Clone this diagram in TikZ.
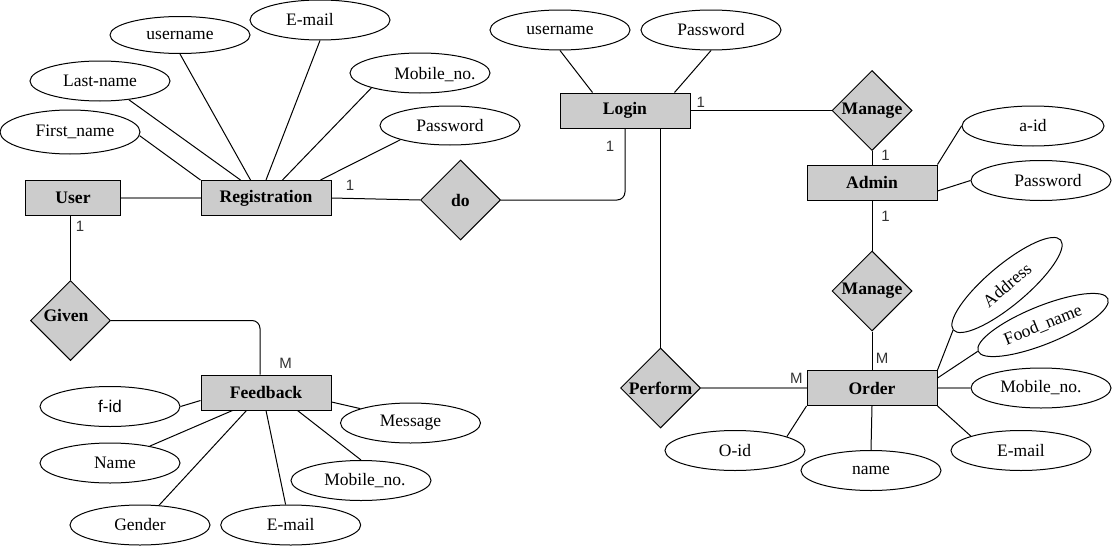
\documentclass[tikz,border=0pt]{standalone}
\usepackage{fontspec}
\setmainfont{Liberation Serif}
\newfontfamily\arialf{Liberation Sans}
\usetikzlibrary{shapes.geometric,calc}
\definecolor{boxfill}{HTML}{CCCCCC}
\definecolor{cardc}{HTML}{333333}
\definecolor{grayline}{HTML}{808080}
\begin{document}
\begin{tikzpicture}[x=1pt,y=-1pt,line width=1pt,
 ent/.style={draw,fill=boxfill,rectangle,minimum width=130pt,minimum height=35pt,inner sep=0pt,font=\fontsize{17.6}{20}\selectfont\bfseries},
 rel/.style={draw,fill=boxfill,diamond,minimum width=80pt,minimum height=80pt,inner sep=0pt},
 reltxt/.style={font=\fontsize{17.6}{20}\selectfont\bfseries,inner sep=0pt},
 attr/.style={draw,ellipse,minimum width=140pt,minimum height=40pt,inner sep=0pt,font=\fontsize{17.5}{20}\selectfont},
 atxt/.style={font=\fontsize{17.5}{20}\selectfont,inner sep=0pt},
 card/.style={font=\arialf\fontsize{15}{17}\selectfont,text=cardc,inner sep=0pt},
 link/.style={draw,line width=1pt},
 glink/.style={draw=grayline,line width=2pt}]
\useasboundingbox (0,0) rectangle (1114,546);

% entities
\node[ent,minimum width=95.5pt] (user) at (73,198) {User};
\node[ent] (reg) at (266,198) {Registration};
\node[ent] (login) at (625,110.5) {Login};
\node[ent] (admin) at (872,182.5) {Admin};
\node[ent] (order) at (872,388) {Order};
\node[ent] (fb) at (266,392.5) {Feedback};

% relationships
\node[rel,label={[reltxt]center:do}] (do) at (460.5,200) {};
\node[rel,label={[reltxt]center:Manage}] (m1) at (872,110.5) {};
\node[rel,label={[reltxt]center:Manage}] (m2) at (872,291) {};
\node[rel,label={[reltxt]center:Perform}] (perform) at (660.5,388) {};
\node[rel,label={[reltxt,xshift=-4.5pt,yshift=5pt]center:Given}] (given) at (70.5,320.5) {};

% registration attributes
\node[attr,minimum height=44pt,label={[atxt,xshift=5pt]center:First\_name}] (rfn) at (70,132) {};
\node[attr] (rln) at (100,81) {Last-name};
\node[attr,minimum height=37pt] (run) at (180,35) {username};
\node[attr,label={[atxt,xshift=-10pt]center:E-mail}] (rem) at (320,20) {};
\node[attr,label={[atxt,xshift=15pt,yshift=-2pt]center:Mobile\_no.}] (rmob) at (420,73) {};
\node[attr,minimum height=39pt] (rpw) at (450,125.5) {Password};

% login attributes
\node[attr] (lun) at (560,30) {username};
\node[attr] (lpw) at (711,30) {Password};

% admin attributes
\node[attr,minimum width=142pt] (aid) at (1033,126) {a-id};
\node[attr,label={[atxt,xshift=7pt]center:Password}] (apw) at (1041,180.5) {};

% order attributes
\node[attr,rotate=40] (oadd) at (1007,285) {Address};
\node[attr,rotate=22,minimum height=38pt] (ofood) at (1043,325) {Food\_name};
\node[attr] (omob) at (1041,388) {Mobile\_no.};
\node[attr] (oem) at (1021,450.5) {E-mail};
\node[attr] (oname) at (871,470.5) {name};
\node[attr] (oid) at (735,450.5) {O-id};

% feedback attributes
\node[attr,font=\arialf\fontsize{17}{20}\selectfont] (ffid) at (110,406.5) {f-id};
\node[attr,label={[atxt,xshift=5pt]center:Name}] (fname) at (110,463) {};
\node[attr] (fgen) at (140,525) {Gender};
\node[attr] (fem) at (290.7,525) {E-mail};
\node[attr,label={[atxt,xshift=4pt]center:Mobile\_no.}] (fmob) at (361,480.5) {};
\node[attr] (fmsg) at (410.5,423) {Message};

% connectors: registration
\draw[link] (rfn.-3) -- (reg.north west);
\draw[link] (rln.-33) -- ($(reg.north west)+(40,0)$);
\draw[link] (run.south) -- ($(reg.north west)+(50,0)$);
\draw[link] (rem.south) -- (reg.north);
\draw[link] (rmob.197) -- ($(reg.north west)+(82,0)$);
\draw[link] (rpw.196) -- ($(reg.north west)+(120,0)$);
\draw[glink] (user.east) -- (reg.west);
\draw[link] (reg.east) -- (do.west);
\draw[link,rounded corners=8pt] (do.east) -| (login.south);
\draw[link] (given.north) -- (given.north |- user.south);
\draw[link,rounded corners=8pt] (given.east) -| ($(fb.north west)+(59.5,0)$);

% connectors: login / admin
\draw[link] (lun.south) -- ($(login.north west)+(33,0)$);
\draw[link] (lpw.south) -- ($(login.north west)+(115,0)$);
\draw[link] (login.east) -- (m1.west);
\draw[link] (m1.south) -- (admin.north);
\draw[link] (aid.west) -- (admin.north east);
\draw[link] (apw.west) -- ($(admin.east)+(0,8.5)$);
\draw[link] (admin.south) -- (m2.north);
\draw[link] (m2.south) -- (order.north);
\draw[link] (perform.north) -- (perform.north |- login.south);
\draw[glink] (perform.east) -- (order.west);

% connectors: order
\draw[link] (oadd.west) -- (order.north east);
\draw[link] (ofood.west) -- ($(order.north east)+(0,8)$);
\draw[glink] (order.east) -- (omob.west);
\draw[link] (oem.164) -- (order.south east);
\draw[link] (order.south) -- (oname.north);
\draw[link] (oid.15) -- (order.south west);

% connectors: feedback
\draw[link] (ffid.east) -- ($(fb.west)+(0,8)$);
\draw[link] (fname.23) -- ($(fb.south west)+(32,0)$);
\draw[link] (fgen.46) -- ($(fb.south west)+(46,0)$);
\draw[link] (fem.104) -- (fb.south);
\draw[link] (fmob.north) -- ($(fb.south west)+(97,0)$);
\draw[link] (fmsg.164) -- ($(fb.east)+(0,9.5)$);

% cardinalities
\node[card] (c1) at (350,185) {1};
\node[card] (c2) at (80,226) {1};
\node[card] (c3) at (610,146.7) {1};
\node[card] (c4) at (700.7,102.7) {1};
\node[card] (c5) at (885.6,155) {1};
\node[card] (c6) at (885.6,216.7) {1};
\node[card] (cm1) at (285.5,363.3) {M};
\node[card] (cm2) at (882,358.3) {M};
\node[card] (cm3) at (796.4,378.3) {M};
\end{tikzpicture}
\end{document}
